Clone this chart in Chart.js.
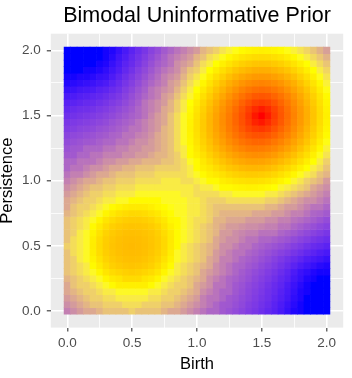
<!DOCTYPE html>
<html>
<head>
<meta charset="utf-8">
<script src="https://cdn.jsdelivr.net/npm/chart.js@4.4.1/dist/chart.umd.min.js"></script>
<style>
  html, body { margin: 0; padding: 0; background: #ffffff; }
  canvas { display: block; }
</style>
</head>
<body>
<canvas id="prior" width="352" height="378"></canvas>
<script>
// grid of the prior, 0.05 apart on both axes
const birth = [0.00, 0.05, 0.10, 0.15, 0.20, 0.25, 0.30, 0.35, 0.40, 0.45, 0.50, 0.55, 0.60, 0.65, 0.70, 0.75, 0.80, 0.85, 0.90, 0.95,
  1.00, 1.05, 1.10, 1.15, 1.20, 1.25, 1.30, 1.35, 1.40, 1.45, 1.50, 1.55, 1.60, 1.65, 1.70, 1.75, 1.80, 1.85, 1.90, 1.95, 2.00];
const persistence = [0.00, 0.05, 0.10, 0.15, 0.20, 0.25, 0.30, 0.35, 0.40, 0.45, 0.50, 0.55, 0.60, 0.65, 0.70, 0.75, 0.80, 0.85, 0.90, 0.95,
  1.00, 1.05, 1.10, 1.15, 1.20, 1.25, 1.30, 1.35, 1.40, 1.45, 1.50, 1.55, 1.60, 1.65, 1.70, 1.75, 1.80, 1.85, 1.90, 1.95, 2.00];

// prior density, 0 (lowest) .. 35 (highest)
// one row per persistence value, first row is persistence = 0
const density = [
  [8,9,10,11,11,12,13,13,13,13,14,13,13,13,13,12,11,11,10,9,8,7,6,6,5,4.5,4,3.5,3,2.6,2.1,1.7,1.3,0.9,0.5,0.2,0.1,0,0,0,0],
  [9,10,11,12,13,13,14,14,14,15,15,15,14,14,14,13,13,12,11,10,9,8,7,6,5,4.9,4.3,3.8,3.2,2.8,2.3,1.9,1.4,1,0.6,0.3,0.1,0,0,0,0],
  [10,11,12,13,14,14,15,15,16,16,16,16,16,15,15,14,14,13,12,11,10,8,7,7,6,5,4.6,4,3.5,3,2.5,2.1,1.6,1.2,0.8,0.4,0.2,0,0,0,0],
  [11,12,13,14,14,15,16,16,17,17,17,17,17,16,16,15,14,14,13,12,11,9,8,7,6,6,4.9,4.3,3.7,3.2,2.7,2.2,1.8,1.3,0.9,0.5,0.2,0.1,0,0,0],
  [11,13,14,14,15,16,17,18,19,19,19,19,19,18,17,16,15,14,14,13,11,10,9,7,7,6,5,4.5,3.9,3.4,2.9,2.4,1.9,1.5,1,0.6,0.3,0.1,0,0,0],
  [12,13,14,15,16,17,18.5,19.5,20,21,21,21,20,19.5,18.5,17,16,15,14,13,12,11,9,8,7,6,5.5,4.9,4.3,3.7,3.2,2.7,2.2,1.7,1.3,0.8,0.5,0.2,0.1,0,0],
  [13,14,15,16,17,18.5,20,21,21.5,22,22.3,22,21.5,21,20,18.5,17,16,15,14,13,11,10,9,8,7,6,5.2,4.6,4,3.5,3,2.5,2,1.5,1,0.6,0.4,0.2,0.1,0.1],
  [13,14,15,16,18,19.5,21,22,22.6,22.9,23.1,22.9,22.6,22,21,19.5,18,16,15,14,13,12,11,9,8,7,6,5.7,5,4.5,3.9,3.4,2.9,2.4,1.9,1.4,1,0.7,0.5,0.3,0.2],
  [13,14,16,17,18.7,20.3,21.7,22.6,23.1,23.5,23.6,23.5,23.1,22.6,21.7,20.3,18.8,17,16,15,14,13,11,10,8,8,7,6,5.5,5,4.4,3.9,3.3,2.8,2.3,1.9,1.5,1.1,0.9,0.7,0.5],
  [13,15,16,17,19.1,20.9,22.2,22.9,23.5,23.8,23.9,23.8,23.5,22.9,22.2,21,19.2,17,16,15,14,13,12,10,9,8,7,7,6,5.5,4.9,4.4,3.9,3.4,3,2.5,2.1,1.7,1.4,1.1,0.9],
  [14,15,16,17,19.2,21,22.3,23.1,23.6,23.9,24,23.9,23.6,23.1,22.4,21.2,19.5,18,16,15,14,13,12,11,9,9,8,7,7,6,5.5,5,4.6,4.2,3.7,3.2,2.8,2.3,1.9,1.7,1.4],
  [13,15,16,17,19.1,20.9,22.2,22.9,23.5,23.8,23.9,23.8,23.5,23,22.4,21.2,19.6,18,17,16,15,14,13,11,10,9,9,8,7,7,6,6,5.5,5,4.6,4,3.5,3.1,2.6,2.3,2],
  [13,14,16,17,18.7,20.3,21.7,22.6,23.1,23.5,23.6,23.5,23.2,22.8,22.1,20.9,19.5,18,17,16,15,14,13,12,10,10,9,8.5,8,8,7,7,7,6,5.5,5,4.4,3.9,3.4,3,2.6],
  [13,14,15,16,18,19.5,21,22,22.6,22.9,23.1,23,22.8,22.4,21.6,20.3,18.9,18,17,16,15,14,13,12,11,10,10,9.5,9,9,8.5,8,8,7,7,6,5.4,4.8,4.3,3.8,3.4],
  [13,14,15,16,17,18.5,20,21,21.7,22.2,22.4,22.4,22.1,21.6,20.7,19.7,18.3,18,17,16,15,15,14,12,12,11,11,11,10,10,10,9,9,8,8,7,6.5,5.9,5.3,4.7,4.1],
  [12,13,14,15,16,17,18.5,19.5,20.4,20.9,21.2,21.1,20.9,20.3,19.7,18.6,17.8,17,17,16,16,15,14,13,12,12,12,12,12,11,11,11,10,10,9,8,8,7,6,5.7,5.1],
  [11,13,14,14,15,16,17,18,18.7,19.2,19.5,19.5,19.4,18.9,18.3,17.8,17.3,17,17,16,16,15,14,13,13,13,13,13,13,13,13,12,12,11,10,10,9,8,7,7,6],
  [11,12,13,14,14,15,16,16,17,17,18,18,18,18,18,17,17,17,17,16,16,15,14,14,14,15,15,15,15,15,15,14,14,13,12,11,10,9,9,8,7],
  [10,11,12,13,14,14,15,15,16,16,16,17,17,17,17,17,17,17,16,16,15,15,15,15,16,16,17,17,17,17,17,16,16,15,14,13,12,11,10,9,8],
  [9,10,11,12,13,13,14,14,15,15,15,16,16,16,16,16,16,16,16,16,15,16,16,17,18,18,18.4,18.6,18.8,18.7,18.4,18,17.5,16.7,16,15,14,13,11,10,9],
  [8,9,10,11,11,12,13,13,14,14,14,15,15,15,15,16,16,16,15,15,16,17,18,18,19.1,19.6,20.1,20.4,20.6,20.6,20.4,20,19.4,18.6,17.6,16.7,15.6,14,13,12,10],
  [7,8,8,9,10,11,11,12,13,13,13,14,14,14,15,15,15,15,15,16,17,18,19,19.6,20.4,21.2,21.8,22.2,22.5,22.5,22.3,21.9,21.3,20.5,19.5,18.4,17.2,16,15,13,12],
  [6,7,7,8,9,9,10,11,11,12,12,13,13,13,14,14,14,14,15,16,18,19,19.8,20.9,21.9,22.8,23.4,24,24.3,24.4,24.3,23.9,23.2,22.3,21.3,20.2,18.9,17.6,16.2,15,13],
  [6,6,7,7,7,8,9,9,10,10,11,11,12,12,12,13,13,14,15,17,18,19.6,20.9,22.1,23.2,24.2,25.1,25.7,26.1,26.2,26.1,25.7,25,24.1,23.1,21.9,20.6,19.1,17.6,16,14],
  [5,5,6,6,7,7,8,8,8,9,9,10,10,11,12,12,13,14,16,18,19.1,20.4,21.9,23.2,24.4,25.6,26.5,27.2,27.7,27.9,27.8,27.4,26.8,25.8,24.7,23.5,22,20.6,18.9,17.2,15.5],
  [4.5,4.9,5,6,6,6,7,7,8,8,9,9,10,10,11,12,13,15,16,18,19.6,21.2,22.8,24.2,25.6,26.8,27.9,28.7,29.3,29.5,29.4,29,28.4,27.4,26.3,25,23.5,21.8,20.1,18.3,16.5],
  [4,4.3,4.6,4.9,5,5.5,6,6,7,7,8,9,9,10,11,12,13,15,17,18.4,20.1,21.8,23.4,25.1,26.5,27.9,29,30,30.6,31,31,30.6,29.8,28.8,27.6,26.2,24.7,23,21.1,19.2,17.3],
  [3.5,3.8,4,4.3,4.5,4.9,5.2,5.7,6,7,7,8,8.5,9.5,11,12,13,15,17,18.6,20.4,22.2,24,25.7,27.2,28.7,30,31,31.9,32.3,32.4,32,31.2,30.1,28.8,27.3,25.7,23.9,22,20,18],
  [3,3.2,3.5,3.7,3.9,4.3,4.6,5,5.5,6,7,7,8,9,10,12,13,15,17,18.8,20.6,22.5,24.3,26.1,27.7,29.3,30.6,31.9,32.9,33.5,33.7,33.3,32.3,31.1,29.7,28.1,26.4,24.5,22.6,20.5,18.5],
  [2.6,2.8,3,3.2,3.4,3.7,4,4.5,5,5.5,6,7,8,9,10,11,13,15,17,18.7,20.6,22.5,24.4,26.2,27.9,29.5,31,32.3,33.5,34.4,34.7,34.2,33.2,31.9,30.3,28.6,26.9,25,23,20.9,18.8],
  [2.1,2.3,2.5,2.7,2.9,3.2,3.5,3.9,4.4,4.9,5.5,6,7,8.5,10,11,13,15,17,18.4,20.4,22.3,24.3,26.1,27.8,29.4,31,32.4,33.7,34.7,35,34.6,33.5,32.1,30.5,28.8,27,25.1,23.1,21,18.9],
  [1.7,1.9,2.1,2.2,2.4,2.7,3,3.4,3.9,4.4,5,6,7,8,9,11,12,14,16,18,20,21.9,23.9,25.7,27.4,29,30.6,32,33.3,34.2,34.6,34.2,33.2,31.9,30.3,28.6,26.9,25,23,20.9,18.8],
  [1.3,1.4,1.6,1.8,1.9,2.2,2.5,2.9,3.3,3.9,4.6,5.5,7,8,9,10,12,14,16,17.5,19.4,21.3,23.2,25,26.8,28.4,29.8,31.2,32.3,33.2,33.5,33.2,32.3,31.1,29.7,28.1,26.4,24.5,22.6,20.5,18.5],
  [0.9,1,1.2,1.3,1.5,1.7,2,2.4,2.8,3.4,4.2,5,6,7,8,10,11,13,15,16.7,18.6,20.5,22.3,24.1,25.8,27.4,28.8,30.1,31.1,31.9,32.1,31.9,31.1,30.1,28.8,27.3,25.7,23.9,22,20,18],
  [0.5,0.6,0.8,0.9,1,1.3,1.5,1.9,2.3,3,3.7,4.6,5.5,7,8,9,10,12,14,16,17.6,19.5,21.3,23.1,24.7,26.3,27.6,28.8,29.7,30.3,30.5,30.3,29.7,28.8,27.6,26.2,24.7,23,21.1,19.2,17.3],
  [0.2,0.3,0.4,0.5,0.6,0.8,1,1.4,1.9,2.5,3.2,4,5,6,7,8,10,11,13,15,16.7,18.4,20.2,21.9,23.5,25,26.2,27.3,28.1,28.6,28.8,28.6,28.1,27.3,26.2,25,23.5,21.8,20.1,18.3,16.5],
  [0.1,0.1,0.2,0.2,0.3,0.5,0.6,1,1.5,2.1,2.8,3.5,4.4,5.4,6.5,8,9,10,12,14,15.6,17.2,18.9,20.6,22,23.5,24.7,25.7,26.4,26.9,27,26.9,26.4,25.7,24.7,23.5,22,20.6,18.9,17.2,15.5],
  [0,0,0,0.1,0.1,0.2,0.4,0.7,1.1,1.7,2.3,3.1,3.9,4.8,5.9,7,8,9,11,13,14,16,17.6,19.1,20.6,21.8,23,23.9,24.5,25,25.1,25,24.5,23.9,23,21.8,20.6,19.1,17.6,16,14.4],
  [0,0,0,0,0,0.1,0.2,0.5,0.9,1.4,1.9,2.6,3.4,4.3,5.3,6,7,9,10,11,13,15,16.2,17.6,18.9,20.1,21.1,22,22.6,23,23.1,23,22.6,22,21.1,20.1,18.9,17.6,16.2,14.7,13.2],
  [0,0,0,0,0,0,0.1,0.3,0.7,1.1,1.7,2.3,3,3.8,4.7,5.7,7,8,9,10,12,13,15,16,17.2,18.3,19.2,20,20.5,20.9,21,20.9,20.5,20,19.2,18.3,17.2,16,14.7,13.3,11.8],
  [0,0,0,0,0,0,0.1,0.2,0.5,0.9,1.4,2,2.6,3.4,4.1,5.1,6,7,8,9,10,12,13,14,15.5,16.5,17.3,18,18.5,18.8,18.9,18.8,18.5,18,17.3,16.5,15.5,14.4,13.2,11.8,10.4]
];
const densityMax = 35;

const majorTicks = [0, 0.5, 1, 1.5, 2];
const minorTicks = [0.25, 0.75, 1.25, 1.75];

const fontFamily = "'Liberation Sans', Arial, Helvetica, sans-serif";
const cellHalf = 0.025;

// blue -> yellow -> red, blended in CIE Lab like ggplot does
const gradientStops = ['#0000FF', '#FFFF00', '#FF0000'];

function toLinear(c) {
    c = c / 255;
    return c <= 0.04045 ? c / 12.92 : Math.pow((c + 0.055) / 1.055, 2.4);
}
function fromLinear(c) {
    const v = c <= 0.0031308 ? 12.92 * c : 1.055 * Math.pow(c, 1 / 2.4) - 0.055;
    return Math.round(Math.min(Math.max(v, 0), 1) * 255);
}
function hexToLab(hex) {
    const r = toLinear(parseInt(hex.slice(1, 3), 16));
    const g = toLinear(parseInt(hex.slice(3, 5), 16));
    const b = toLinear(parseInt(hex.slice(5, 7), 16));
    const x = (0.4124564 * r + 0.3575761 * g + 0.1804375 * b) / 0.95047;
    const y = 0.2126729 * r + 0.7151522 * g + 0.0721750 * b;
    const z = (0.0193339 * r + 0.1191920 * g + 0.9503041 * b) / 1.08883;
    const f = t => t > 0.008856 ? Math.cbrt(t) : 7.787 * t + 16 / 116;
    return [116 * f(y) - 16, 500 * (f(x) - f(y)), 200 * (f(y) - f(z))];
}
function labToRgb(L, a, bb) {
    const fy = (L + 16) / 116, fx = fy + a / 500, fz = fy - bb / 200;
    const inv = t => t * t * t > 0.008856 ? t * t * t : (t - 16 / 116) / 7.787;
    const x = 0.95047 * inv(fx), y = inv(fy), z = 1.08883 * inv(fz);
    const r = 3.2404542 * x - 1.5371385 * y - 0.4985314 * z;
    const g = -0.9692660 * x + 1.8760108 * y + 0.0415560 * z;
    const b = 0.0556434 * x - 0.2040259 * y + 1.0572252 * z;
    return 'rgb(' + fromLinear(r) + ',' + fromLinear(g) + ',' + fromLinear(b) + ')';
}
const labStops = gradientStops.map(hexToLab);
function fillColour(level) {
    const t = Math.min(Math.max(level / densityMax, 0), 1) * (labStops.length - 1);
    const i = Math.min(Math.floor(t), labStops.length - 2);
    const f = t - i;
    const p = labStops[i], q = labStops[i + 1];
    return labToRgb(p[0] + (q[0] - p[0]) * f, p[1] + (q[1] - p[1]) * f, p[2] + (q[2] - p[2]) * f);
}

const cells = [];
const cellColours = [];
persistence.forEach((p, j) => {
    birth.forEach((b, i) => {
        cells.push({x: b, y: [p - cellHalf, p + cellHalf]});
        cellColours.push(fillColour(density[j][i]));
    });
});

const panelBackground = {
    id: 'panelBackground',
    beforeDraw(chart) {
        const {ctx, chartArea} = chart;
        ctx.save();
        ctx.fillStyle = '#EBEBEB';
        ctx.fillRect(chartArea.left, chartArea.top, chartArea.width, chartArea.height);
        ctx.restore();
    }
};

const isMajor = v => majorTicks.includes(v);
const allTicks = majorTicks.concat(minorTicks).sort((a, b) => a - b);

function axisOptions(titleText, isX) {
    return {
        type: 'linear',
        min: -0.1275,
        max: 2.1275,
        offset: false,
        afterBuildTicks: scale => {
            scale.ticks = allTicks.map(v => ({value: v}));
        },
        afterFit: scale => {
            if (isX) {
                scale.height = 50.4;
            } else {
                scale.width = 50.8;
            }
        },
        border: {display: false},
        grid: {
            offset: false,
            color: '#FFFFFF',
            lineWidth: c => isMajor(c.tick.value) ? 1.6 : 0.8,
            drawTicks: true,
            tickLength: 4,
            tickWidth: 1.1,
            tickColor: c => isMajor(c.tick.value) ? '#333333' : 'rgba(0,0,0,0)',
        },
        ticks: {
            color: '#4D4D4D',
            font: {family: fontFamily, size: 13.5},
            padding: isX ? 3.6 : 6,
            autoSkip: false,
            maxRotation: 0,
            minRotation: 0,
            callback: v => isMajor(v) ? v.toFixed(1) : '',
        },
        title: {
            display: true,
            text: titleText,
            color: '#000000',
            font: {family: fontFamily, size: 16.5, lineHeight: isX ? 1.2 : 0.94},
            padding: isX ? {top: 0, bottom: 3.7} : {top: 0, bottom: 0},
        },
    };
}

new Chart(document.getElementById('prior'), {
    type: 'bar',
    data: {
        datasets: [{
            data: cells,
            backgroundColor: cellColours,
            borderWidth: 0,
            barPercentage: 1,
            categoryPercentage: 1,
        }]
    },
    options: {
        responsive: false,
        animation: false,
        devicePixelRatio: 1,
        layout: {padding: {left: 0, right: 8.8, top: 0, bottom: 0}},
        plugins: {
            legend: {display: false},
            tooltip: {enabled: false},
            title: {
                display: true,
                text: 'Bimodal Uninformative Prior',
                color: '#000000',
                fullSize: false,
                font: {family: fontFamily, size: 21.5, weight: 'normal', lineHeight: 1.2},
                padding: {top: 3.1, bottom: 4.8},
            },
        },
        scales: {
            x: axisOptions('Birth', true),
            y: axisOptions('Persistence', false),
        },
    },
    plugins: [panelBackground]
});
</script>
</body>
</html>
